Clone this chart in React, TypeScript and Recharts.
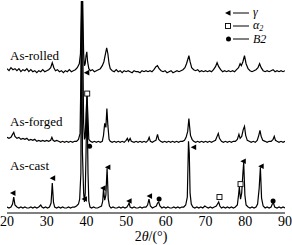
import React from 'react'
import { ComposedChart, Line, Scatter, XAxis, YAxis } from 'recharts'

const SERIF = '"Liberation Serif", "Times New Roman", serif'

const xTicks = [20, 30, 40, 50, 60, 70, 80, 90]

// 2theta / intensity pairs, intensity in plot units (0 = axis, 213 = top)
const rolled: number[][] = [
  [20, 145], [20.5, 143], [21, 146], [21.5, 144], [22, 145], [22.5, 143], [23, 145], [23.5, 142], [24, 144],
  [24.5, 143], [25, 145], [25.5, 142], [26, 144], [26.5, 142], [27, 143], [27.5, 141], [28, 143], [28.5, 142],
  [29, 144], [29.5, 142], [30, 143], [30.5, 144], [31, 146], [31.4, 151], [31.8, 146], [32.2, 143], [32.7, 144],
  [33.2, 142], [33.7, 143], [34.2, 141], [34.7, 143], [35.2, 142], [35.7, 144], [36.2, 142], [36.7, 143],
  [37.2, 144], [37.7, 146], [38.2, 150], [38.5, 160], [38.7, 200], [38.9, 260], [39.1, 200], [39.3, 160],
  [39.5, 148], [39.7, 150], [39.9, 158], [40.1, 162], [40.3, 152], [40.6, 145], [41, 143], [41.5, 144],
  [42, 142], [42.5, 143], [43, 144], [43.5, 145], [44, 148], [44.4, 152], [44.7, 158], [45.1, 166], [45.4, 160],
  [45.7, 150], [46, 145], [46.5, 143], [47, 142], [47.5, 144], [48, 142], [48.5, 143], [49, 141], [49.5, 143],
  [50, 142], [50.5, 143], [51, 142], [51.5, 141], [52, 143], [52.5, 142], [53, 142], [53.5, 141], [54, 143],
  [54.5, 142], [55, 143], [55.5, 142], [56, 143], [56.5, 142], [57, 144], [57.5, 147], [57.9, 148], [58.3, 145],
  [58.8, 143], [59.3, 142], [59.8, 143], [60.3, 141], [60.8, 142], [61.3, 143], [61.8, 141], [62.3, 142],
  [62.8, 143], [63.3, 142], [63.8, 143], [64.3, 144], [64.8, 146], [65.2, 150], [65.5, 154], [65.8, 158],
  [66.1, 152], [66.5, 146], [67, 144], [67.5, 143], [68, 144], [68.5, 142], [69, 143], [69.5, 142], [70, 143],
  [70.5, 142], [71, 143], [71.5, 142], [72, 144], [72.5, 147], [72.9, 151], [73.3, 147], [73.8, 144],
  [74.3, 142], [74.8, 143], [75.3, 142], [75.8, 143], [76.3, 142], [76.8, 143], [77.3, 142], [77.8, 144],
  [78.3, 146], [78.7, 150], [79, 148], [79.4, 152], [79.8, 158], [80.2, 150], [80.7, 145], [81.2, 143],
  [81.7, 142], [82.2, 143], [82.7, 144], [83.2, 146], [83.6, 150], [84, 146], [84.5, 143], [85, 142],
  [85.5, 143], [86, 142], [86.5, 143], [87, 144], [87.5, 142], [88, 143], [88.5, 142], [89, 143], [89.5, 142],
  [90, 143],
]

const forged: number[][] = [
  [20, 76], [20.5, 75], [21, 76], [21.4, 79], [21.7, 81], [22, 77], [22.5, 75], [23, 76], [23.5, 74], [24, 75],
  [24.5, 74], [25, 75], [25.5, 73], [26, 74], [26.5, 73], [27, 74], [27.5, 72], [28, 73], [28.5, 72], [29, 73],
  [29.5, 72], [30, 73], [30.5, 72], [31, 73], [31.3, 76], [31.6, 73], [32, 72], [32.5, 73], [33, 72], [33.5, 71],
  [34, 72], [34.5, 71], [35, 72], [35.5, 71], [36, 72], [36.5, 71], [37, 72], [37.5, 72], [38, 74], [38.4, 80],
  [38.7, 160], [38.9, 260], [39.1, 160], [39.3, 90], [39.5, 74], [39.7, 76], [39.9, 100], [40.15, 118],
  [40.4, 95], [40.6, 74], [41, 72], [41.5, 71], [42, 72], [42.5, 71], [43, 72], [43.5, 71], [44, 72],
  [44.3, 78], [44.6, 90], [44.9, 86], [45.15, 105], [45.4, 88], [45.7, 74], [46, 72], [46.5, 71], [47, 72],
  [47.5, 71], [48, 72], [48.5, 71], [49, 72], [49.5, 71], [50, 73], [50.3, 75], [50.6, 72], [51, 75], [51.3, 72],
  [52, 71], [52.5, 72], [53, 71], [53.5, 72], [54, 71], [54.5, 72], [55, 71], [55.5, 73], [55.8, 76], [56.1, 72],
  [56.6, 71], [57, 72], [57.5, 73], [57.9, 79], [58.2, 74], [58.7, 72], [59.2, 71], [59.7, 72], [60.2, 71],
  [60.7, 72], [61.2, 71], [61.7, 72], [62.2, 71], [62.7, 72], [63.2, 71], [63.7, 72], [64.2, 72], [64.7, 73],
  [65.1, 76], [65.5, 82], [65.8, 95], [66, 86], [66.2, 78], [66.6, 74], [67, 72], [67.5, 71], [68, 72],
  [68.5, 71], [69, 72], [69.5, 71], [70, 72], [70.5, 71], [71, 72], [71.5, 71], [72, 72], [72.5, 73], [72.9, 77],
  [73.2, 80], [73.5, 75], [74, 72], [74.5, 71], [75, 72], [75.5, 71], [76, 72], [76.5, 71], [77, 72], [77.5, 72],
  [78, 74], [78.4, 79], [78.7, 75], [79.1, 77], [79.5, 84], [79.8, 87], [80.1, 78], [80.5, 73], [81, 72],
  [81.5, 71], [82, 72], [82.5, 71], [83, 73], [83.4, 78], [83.7, 83], [84, 77], [84.4, 73], [85, 72], [85.5, 71],
  [86, 72], [86.5, 72], [87, 74], [87.3, 77], [87.6, 73], [88, 72], [88.5, 71], [89, 72], [89.5, 71], [90, 72],
]

const cast: number[][] = [
  [20, 6], [20.5, 5], [21, 6], [21.4, 9], [21.7, 16], [22, 8], [22.5, 6], [23, 5], [23.5, 6], [24, 5], [24.5, 6],
  [25, 5], [25.5, 5], [26, 6], [26.5, 5], [27, 6], [27.5, 5], [28, 6], [28.5, 8], [28.8, 6], [29.2, 5], [29.7, 6],
  [30.2, 5], [30.7, 6], [31.1, 10], [31.4, 30], [31.7, 11], [32, 6], [32.5, 5], [33, 6], [33.5, 5], [34, 6],
  [34.5, 5], [35, 5], [35.5, 6], [36, 5], [36.5, 6], [37, 6], [37.5, 7], [38, 9], [38.3, 14], [38.6, 40],
  [38.8, 260], [39.0, 60], [39.3, 20], [39.5, 11], [39.7, 20], [39.9, 60], [40.15, 118], [40.4, 40], [40.6, 12],
  [40.9, 6], [41.3, 5], [41.8, 6], [42.3, 5], [42.8, 5], [43.3, 6], [43.8, 7], [44.1, 12], [44.3, 24], [44.6, 13],
  [44.9, 18], [45.2, 45], [45.5, 14], [45.8, 7], [46.2, 5], [46.7, 6], [47.2, 5], [47.7, 5], [48.2, 6], [48.7, 5],
  [49.2, 6], [49.7, 5], [50.2, 6], [50.5, 8], [50.75, 10], [51, 6], [51.5, 5], [52, 6], [52.5, 5], [53, 5],
  [53.5, 6], [54, 5], [54.5, 6], [55, 6], [55.4, 8], [55.75, 14], [56.1, 7], [56.6, 5], [57.1, 6], [57.6, 7],
  [57.9, 10], [58.2, 11], [58.5, 7], [59, 5], [59.5, 6], [60, 5], [60.5, 6], [61, 5], [61.5, 5], [62, 6],
  [62.5, 5], [63, 6], [63.5, 5], [64, 6], [64.5, 6], [65, 8], [65.4, 16], [65.7, 72], [65.9, 60], [66.1, 20],
  [66.4, 9], [66.8, 6], [67.3, 5], [67.8, 6], [68.3, 5], [68.8, 6], [69.3, 5], [69.8, 7], [70.2, 6], [70.7, 5],
  [71.2, 6], [71.7, 5], [72.2, 6], [72.7, 7], [73, 9], [73.3, 11], [73.6, 7], [74, 5], [74.5, 6], [75, 5],
  [75.5, 6], [76, 5], [76.5, 6], [77, 5], [77.5, 6], [78, 8], [78.3, 18], [78.5, 26], [78.8, 14], [79.1, 20],
  [79.4, 40], [79.6, 51], [79.9, 18], [80.2, 8], [80.7, 6], [81.2, 5], [81.7, 6], [82.2, 5], [82.7, 6], [83.1, 9],
  [83.5, 25], [83.8, 46], [84.1, 15], [84.5, 7], [85, 5], [85.5, 6], [86, 5], [86.5, 6], [86.8, 9], [87.1, 10],
  [87.4, 6], [88, 5], [88.5, 6], [89, 5], [89.5, 6], [90, 5],
]

// phase markers: [2theta, height]
const gammaMarks: number[][] = [
  [40.1, 141], [21.5, 20], [31.5, 35], [39.5, 14], [44.2, 25], [45.4, 46], [50.75, 12], [55.9, 17],
  [67, 66], [79.5, 52], [84, 47],
]
const alpha2Marks: number[][] = [[40.2, 120], [73.5, 16], [78.8, 29]]
const b2Marks: number[][] = [[40.8, 67], [58.3, 14], [87, 12]]

const toPts = (arr: number[][]) => arr.map(([x, y]) => ({ x, y }))

const Tri = (p: any) => {
  const { cx, cy } = p
  return <polygon points={`${cx - 3},${cy} ${cx + 2.5},${cy - 2.8} ${cx + 2.5},${cy + 2.8}`} fill="#000" />
}
const Sq = (p: any) => {
  const { cx, cy } = p
  return <rect x={cx - 2.5} y={cy - 2.5} width={5} height={5} fill="#fff" stroke="#000" strokeWidth={0.9} />
}
const Dot = (p: any) => {
  const { cx, cy } = p
  return <circle cx={cx} cy={cy} r={2.5} fill="#000" />
}

const AxisTitle = () => (
  <text x={151} y={241} textAnchor="middle" fontFamily={SERIF} fontSize={14} fill="#000">
    <tspan>2</tspan>
    <tspan fontStyle="italic">θ</tspan>
    <tspan>/(°)</tspan>
  </text>
)

export default function App() {
  return (
    <div style={{ position: 'absolute', left: 0, top: 0, width: 292, height: 245, background: '#fff' }}>
      <ComposedChart width={292} height={245} margin={{ top: 1, right: 7, left: 7, bottom: 0 }}>
        <XAxis
          dataKey="x"
          type="number"
          domain={[20, 90]}
          ticks={xTicks}
          interval={0}
          allowDataOverflow
          axisLine={{ stroke: '#000' }}
          tickLine={false}
          tickSize={0}
          tickMargin={3}
          tick={{ fill: '#000', fontSize: 14, fontFamily: SERIF }}
          height={32}
          label={{ content: () => <AxisTitle /> }}
        />
        <XAxis xAxisId="top" orientation="top" type="number" domain={[20, 90]} tick={false} tickLine={false} axisLine={{ stroke: '#000' }} height={0} />
        <YAxis type="number" domain={[0, 213]} allowDataOverflow tick={false} tickLine={false} axisLine={{ stroke: '#000' }} width={0} />
        <YAxis yAxisId="r" orientation="right" type="number" domain={[0, 213]} tick={false} tickLine={false} axisLine={{ stroke: '#000' }} width={0} />
        <Line data={toPts(rolled)} dataKey="y" stroke="#000" strokeWidth={1.2} dot={false} isAnimationActive={false} />
        <Line data={toPts(forged)} dataKey="y" stroke="#000" strokeWidth={1.2} dot={false} isAnimationActive={false} />
        <Line data={toPts(cast)} dataKey="y" stroke="#000" strokeWidth={1.2} dot={false} isAnimationActive={false} />
        <Scatter data={toPts(gammaMarks)} dataKey="y" shape={Tri} isAnimationActive={false} />
        <Scatter data={toPts(alpha2Marks)} dataKey="y" shape={Sq} isAnimationActive={false} />
        <Scatter data={toPts(b2Marks)} dataKey="y" shape={Dot} isAnimationActive={false} />
      </ComposedChart>
      <svg width={292} height={245} style={{ position: 'absolute', left: 0, top: 0, pointerEvents: 'none' }}>
        <g fontFamily={SERIF} fontSize={13} fill="#000">
          <text x={10} y={60}>As-rolled</text>
          <text x={10} y={126}>As-forged</text>
          <text x={10} y={170}>As-cast</text>
        </g>
        <polygon points="225,13 230.5,10.2 230.5,15.8" fill="#000" />
        <line x1={233} y1={13} x2={249} y2={13} stroke="#000" strokeWidth={1} />
        <text x={253} y={16} fontFamily={SERIF} fontSize={12} fontStyle="italic">γ</text>
        <rect x={225.5} y={23.5} width={5} height={5} fill="#fff" stroke="#000" strokeWidth={0.9} />
        <line x1={233} y1={26} x2={249} y2={26} stroke="#000" strokeWidth={1} />
        <text x={253} y={29} fontFamily={SERIF} fontSize={12} fontStyle="italic">
          α<tspan fontSize={8} dy={2}>2</tspan>
        </text>
        <circle cx={228.5} cy={39} r={2.5} fill="#000" />
        <line x1={233} y1={39} x2={249} y2={39} stroke="#000" strokeWidth={1} />
        <text x={253} y={43} fontFamily={SERIF} fontSize={12} fontStyle="italic">B2</text>
      </svg>
    </div>
  )
}
